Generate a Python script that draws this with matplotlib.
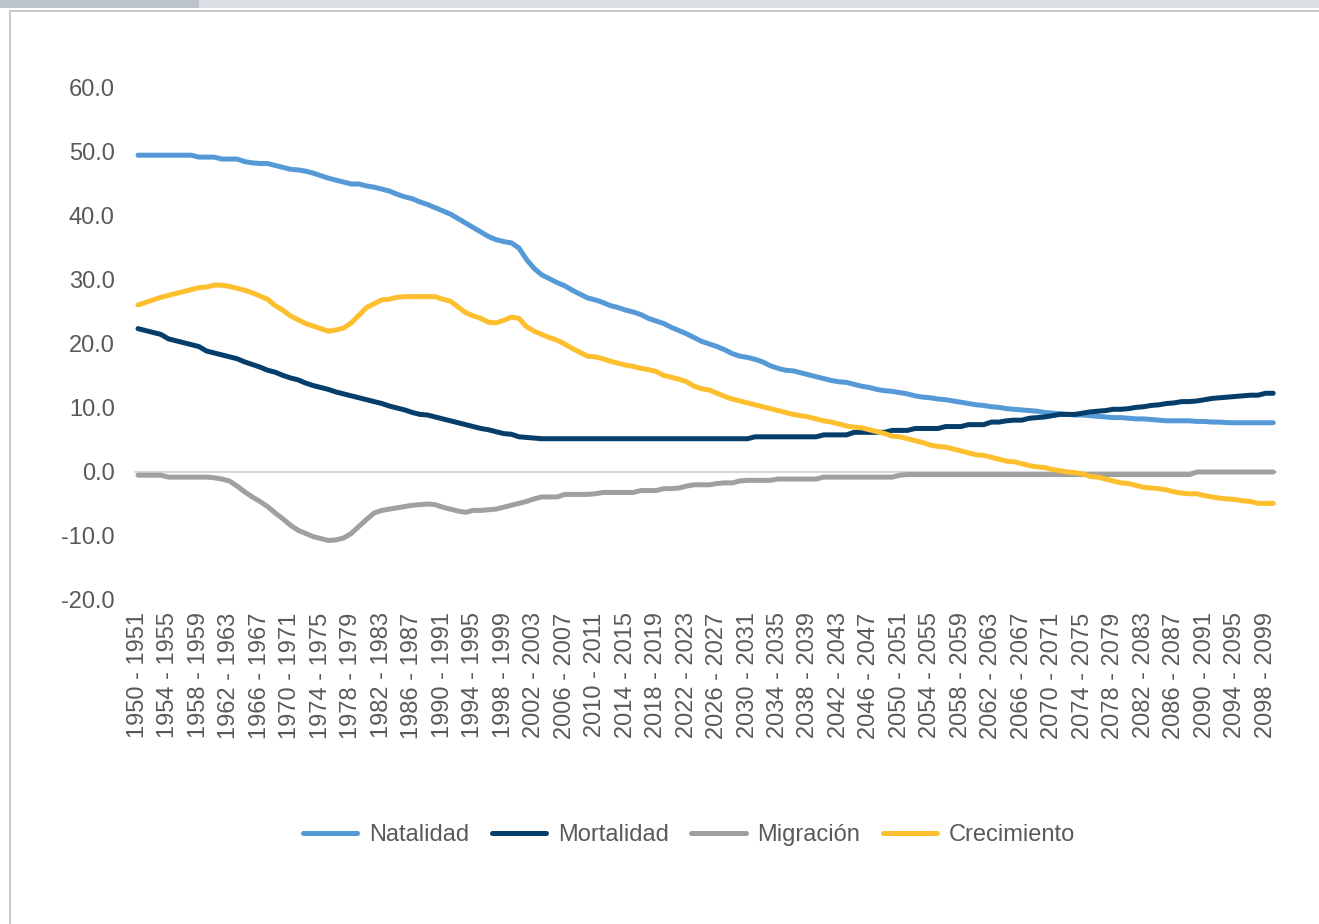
import matplotlib
matplotlib.use("Agg")
import matplotlib.pyplot as plt
from matplotlib.patches import Rectangle

start_years = list(range(1950, 2100))
categories = [f"{y} - {y + 1}" for y in start_years]

natalidad = [
    49.5, 49.5, 49.5, 49.5, 49.5, 49.5, 49.5, 49.5, 49.2, 49.2,
    49.2, 48.9, 48.9, 48.9, 48.5, 48.3, 48.2, 48.2, 47.9, 47.6,
    47.3, 47.2, 47.0, 46.7, 46.3, 45.9, 45.6, 45.3, 45.0, 45.0,
    44.7, 44.5, 44.2, 43.9, 43.4, 43.0, 42.7, 42.2, 41.8, 41.3,
    40.8, 40.3, 39.6, 38.9, 38.2, 37.5, 36.8, 36.3, 36.0, 35.8,
    35.0, 33.2, 31.8, 30.8, 30.2, 29.6, 29.1, 28.4, 27.8, 27.2,
    26.9, 26.5, 26.0, 25.7, 25.3, 25.0, 24.6, 24.0, 23.6, 23.2,
    22.6, 22.1, 21.6, 21.0, 20.4, 20.0, 19.6, 19.1, 18.5, 18.1,
    17.9, 17.6, 17.2, 16.6, 16.2, 15.9, 15.8, 15.5, 15.2, 14.9,
    14.6, 14.3, 14.1, 14.0, 13.7, 13.4, 13.2, 12.9, 12.7, 12.6,
    12.4, 12.2, 11.9, 11.7, 11.6, 11.4, 11.3, 11.1, 10.9, 10.7,
    10.5, 10.4, 10.2, 10.1, 9.9, 9.8, 9.7, 9.6, 9.5, 9.3,
    9.2, 9.1, 9.0, 8.9, 8.9, 8.8, 8.7, 8.6, 8.5, 8.5,
    8.4, 8.3, 8.3, 8.2, 8.1, 8.0, 8.0, 8.0, 8.0, 7.9,
    7.9, 7.8, 7.8, 7.7, 7.7, 7.7, 7.7, 7.7, 7.7, 7.7,
]

mortalidad = [
    22.4, 22.1, 21.8, 21.5, 20.8, 20.5, 20.2, 19.9, 19.6, 18.9,
    18.6, 18.3, 18.0, 17.7, 17.2, 16.8, 16.4, 15.9, 15.6, 15.1,
    14.7, 14.4, 13.9, 13.5, 13.2, 12.9, 12.5, 12.2, 11.9, 11.6,
    11.3, 11.0, 10.7, 10.3, 10.0, 9.7, 9.3, 9.0, 8.9, 8.6,
    8.3, 8.0, 7.7, 7.4, 7.1, 6.8, 6.6, 6.3, 6.0, 5.9,
    5.5, 5.4, 5.3, 5.2, 5.2, 5.2, 5.2, 5.2, 5.2, 5.2,
    5.2, 5.2, 5.2, 5.2, 5.2, 5.2, 5.2, 5.2, 5.2, 5.2,
    5.2, 5.2, 5.2, 5.2, 5.2, 5.2, 5.2, 5.2, 5.2, 5.2,
    5.2, 5.5, 5.5, 5.5, 5.5, 5.5, 5.5, 5.5, 5.5, 5.5,
    5.8, 5.8, 5.8, 5.8, 6.2, 6.2, 6.2, 6.2, 6.2, 6.5,
    6.5, 6.5, 6.8, 6.8, 6.8, 6.8, 7.1, 7.1, 7.1, 7.4,
    7.4, 7.4, 7.8, 7.8, 8.0, 8.1, 8.1, 8.4, 8.5, 8.6,
    8.8, 9.0, 9.0, 9.0, 9.2, 9.4, 9.5, 9.6, 9.8, 9.8,
    9.9, 10.1, 10.2, 10.4, 10.5, 10.7, 10.8, 11.0, 11.0, 11.1,
    11.3, 11.5, 11.6, 11.7, 11.8, 11.9, 12.0, 12.0, 12.3, 12.3,
]

migracion = [
    -0.5, -0.5, -0.5, -0.5, -0.8, -0.8, -0.8, -0.8, -0.8, -0.8,
    -0.9, -1.1, -1.4, -2.2, -3.1, -3.9, -4.6, -5.4, -6.4, -7.3,
    -8.3, -9.1, -9.6, -10.1, -10.4, -10.7, -10.6, -10.3, -9.6, -8.5,
    -7.4, -6.4, -6.0, -5.8, -5.6, -5.4, -5.2, -5.1, -5.0, -5.1,
    -5.5, -5.8, -6.1, -6.3, -6.0, -6.0, -5.9, -5.8, -5.5, -5.2,
    -4.9, -4.6, -4.2, -3.9, -3.9, -3.9, -3.5, -3.5, -3.5, -3.5,
    -3.4, -3.2, -3.2, -3.2, -3.2, -3.2, -2.9, -2.9, -2.9, -2.6,
    -2.6, -2.5, -2.2, -2.0, -2.0, -2.0, -1.8, -1.7, -1.7, -1.4,
    -1.3, -1.3, -1.3, -1.3, -1.1, -1.1, -1.1, -1.1, -1.1, -1.1,
    -0.8, -0.8, -0.8, -0.8, -0.8, -0.8, -0.8, -0.8, -0.8, -0.8,
    -0.5, -0.4, -0.4, -0.4, -0.4, -0.4, -0.4, -0.4, -0.4, -0.4,
    -0.4, -0.4, -0.4, -0.4, -0.4, -0.4, -0.4, -0.4, -0.4, -0.4,
    -0.4, -0.4, -0.4, -0.4, -0.4, -0.4, -0.4, -0.4, -0.4, -0.4,
    -0.4, -0.4, -0.4, -0.4, -0.4, -0.4, -0.4, -0.4, -0.4, 0.0,
    0.0, 0.0, 0.0, 0.0, 0.0, 0.0, 0.0, 0.0, 0.0, 0.0,
]

crecimiento = [
    26.1, 26.5, 26.9, 27.3, 27.6, 27.9, 28.2, 28.5, 28.8, 28.9,
    29.2, 29.2, 29.0, 28.7, 28.4, 28.0, 27.5, 27.0, 26.0, 25.3,
    24.4, 23.8, 23.2, 22.8, 22.4, 22.0, 22.2, 22.5, 23.3, 24.5,
    25.7, 26.3, 26.9, 27.0, 27.3, 27.4, 27.4, 27.4, 27.4, 27.4,
    27.0, 26.7, 25.8, 24.9, 24.4, 24.0, 23.4, 23.3, 23.7, 24.2,
    24.0, 22.7, 22.0, 21.5, 21.0, 20.6, 20.0, 19.3, 18.7, 18.1,
    18.0, 17.7, 17.3, 17.0, 16.7, 16.5, 16.2, 16.0, 15.7, 15.1,
    14.8, 14.5, 14.1, 13.4, 13.0, 12.8, 12.3, 11.8, 11.4, 11.1,
    10.8, 10.5, 10.2, 9.9, 9.6, 9.3, 9.0, 8.8, 8.6, 8.3,
    8.0, 7.8, 7.5, 7.2, 7.0, 6.9, 6.6, 6.3, 6.0, 5.6,
    5.5, 5.2, 4.9, 4.6, 4.2, 4.0, 3.9, 3.6, 3.3, 3.0,
    2.7, 2.6, 2.3, 2.0, 1.7, 1.6, 1.3, 1.0, 0.8, 0.7,
    0.4, 0.2, 0.0, -0.1, -0.3, -0.7, -0.8, -1.1, -1.4, -1.7,
    -1.8, -2.1, -2.4, -2.5, -2.6, -2.8, -3.1, -3.3, -3.4, -3.4,
    -3.7, -3.9, -4.1, -4.2, -4.3, -4.5, -4.6, -4.9, -4.9, -4.9,
]

series_names = ["Natalidad", "Mortalidad", "Migración", "Crecimiento"]
series_colors = ["#559ad6", "#053e6b", "#a0a0a0", "#fdbf2d"]
yticks = [-20, -10, 0, 10, 20, 30, 40, 50, 60]

plt.rcParams["font.family"] = ["Liberation Sans", "DejaVu Sans"]

W, H = 1319, 924
fig = plt.figure(figsize=(W / 100, H / 100), dpi=100)
fig.patch.set_facecolor("white")

# decorative frame (pixel coords)
deco = fig.add_axes([0, 0, 1, 1], zorder=-5)
deco.set_xlim(0, W)
deco.set_ylim(H, 0)
deco.axis("off")
deco.add_patch(Rectangle((0, 0), W, 8, color="#dcdfe3", lw=0))
deco.add_patch(Rectangle((0, 0), 199, 8, color="#bcc3ca", lw=0))
deco.add_patch(Rectangle((9, 9.5), W - 9, 2, color="#c5ccd2", lw=0))
deco.add_patch(Rectangle((9, 9.5), 2, H, color="#c5ccd2", lw=0))

left_px, right_px = 134.2, 1277.0
top_px, bot_px = 88.0, 600.0
ax = fig.add_axes([left_px / W, 1 - bot_px / H, (right_px - left_px) / W, (bot_px - top_px) / H])
ax.set_facecolor("none")

x = list(range(len(categories)))
ax.axhline(0, color="#d9d9d9", lw=1.5, zorder=1)
for name, vals, col in zip(series_names, [natalidad, mortalidad, migracion, crecimiento], series_colors):
    ax.plot(x, vals, color=col, lw=3.6, label=name, solid_capstyle="round",
            solid_joinstyle="round", zorder=3)

ax.set_xlim(-0.5, len(categories) - 0.5)
ax.set_ylim(-20, 60)
ax.set_yticks(yticks)
ax.set_yticklabels([f"{v:.1f}" for v in yticks])
ax.set_xticks(x[::4])
ax.set_xticklabels(categories[::4], rotation=90)
ax.tick_params(axis="both", length=0, labelsize=17, labelcolor="#595959")
ax.tick_params(axis="y", pad=14)
ax.tick_params(axis="x", pad=9)
for s in ax.spines.values():
    s.set_visible(False)

fig.legend(loc="center", bbox_to_anchor=(0.5224, 1 - 835 / H), ncol=4, frameon=False,
           fontsize=17, labelcolor="#595959", handlelength=2.3, handletextpad=0.5,
           columnspacing=0.95)

fig.savefig("out.png", dpi=100)
